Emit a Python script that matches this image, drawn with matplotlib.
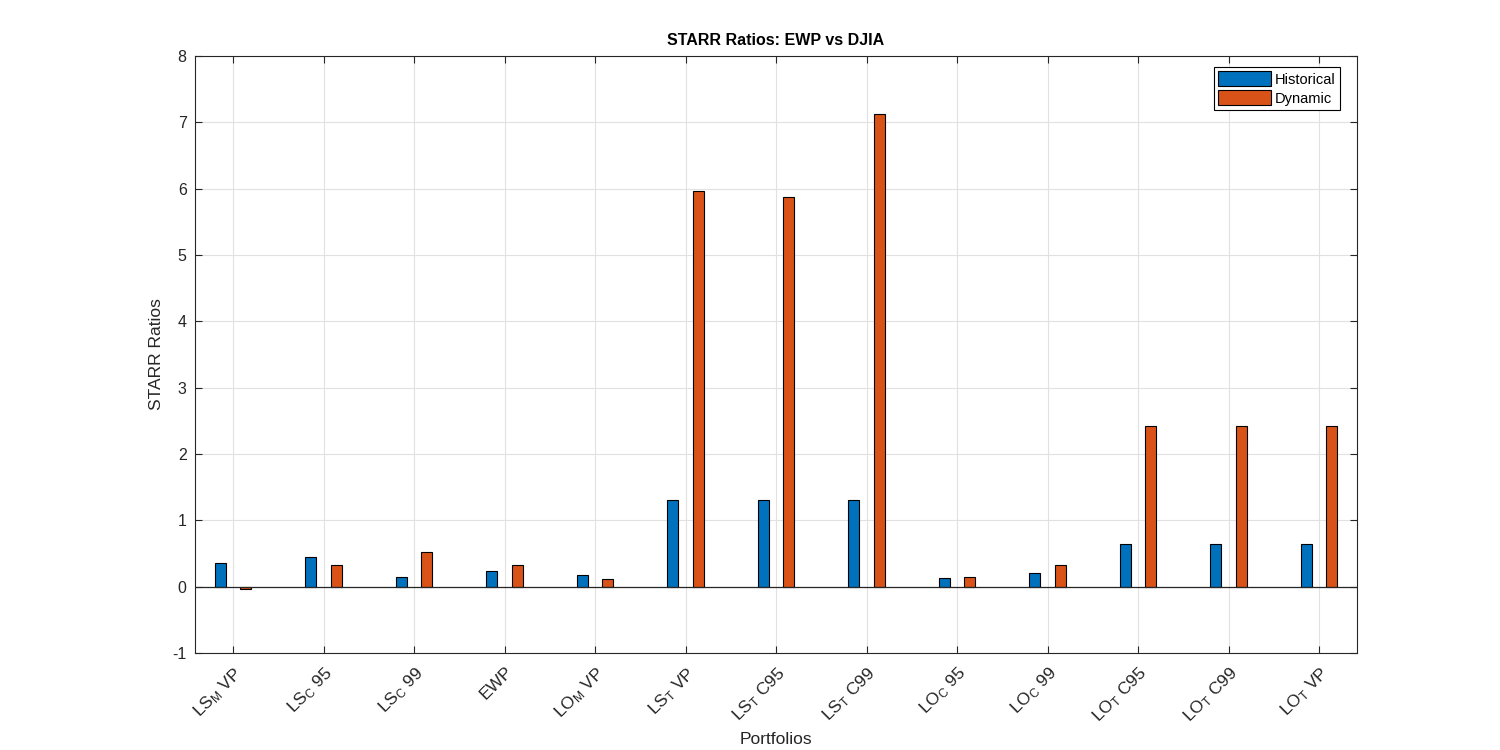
import numpy as np
import matplotlib.pyplot as plt

plt.rcParams['font.family'] = ['Liberation Sans', 'DejaVu Sans']
plt.rcParams['mathtext.default'] = 'regular'
plt.rcParams['axes.unicode_minus'] = False

portfolios = ['LS$_M$ VP', 'LS$_C$ 95', 'LS$_C$ 99', 'EWP', 'LO$_M$ VP',
              'LS$_T$ VP', 'LS$_T$ C95', 'LS$_T$ C99', 'LO$_C$ 95', 'LO$_C$ 99',
              'LO$_T$ C95', 'LO$_T$ C99', 'LO$_T$ VP']
historical = [0.36, 0.45, 0.14, 0.24, 0.17, 1.31, 1.31, 1.31, 0.135, 0.21, 0.645, 0.645, 0.645]
dynamic = [-0.03, 0.33, 0.53, 0.33, 0.12, 5.97, 5.88, 7.13, 0.15, 0.32, 2.43, 2.43, 2.43]

axis_col = '#262626'
x = np.arange(1, len(portfolios) + 1)

fig = plt.figure(figsize=(15, 7.5), dpi=100)
ax = fig.add_axes([0.13, 0.1293, 0.7747, 0.796])

ax.bar(x - 0.14, historical, 0.12, color='#0072BD', edgecolor='black', linewidth=0.8,
       label='Historical', zorder=3)
ax.bar(x + 0.14, dynamic, 0.12, color='#D95319', edgecolor='black', linewidth=0.8,
       label='Dynamic', zorder=3)
ax.axhline(0, color=axis_col, linewidth=0.9, zorder=4)

ax.set_xlim(0.58, 13.42)
ax.set_ylim(-1, 8)
ax.set_yticks(range(-1, 9))
ax.set_xticks(x)
ax.set_xticklabels(portfolios, rotation=45, ha='right', rotation_mode='anchor')
ax.tick_params(axis='both', direction='in', top=True, right=True, colors=axis_col,
               labelsize=11.5, length=5, width=0.8, pad=6)
ax.tick_params(axis='x', labelsize=12.5, pad=8)
ax.grid(True, color='#e1e1e1', linewidth=0.8, zorder=0)
for s in ax.spines.values():
    s.set_color(axis_col)
    s.set_linewidth(0.8)

ax.set_title('STARR Ratios: EWP vs DJIA', fontsize=11.5, fontweight='bold', color='black', pad=8)
ax.set_xlabel('Portfolios', fontsize=12.5, color=axis_col)
ax.set_ylabel('STARR Ratios', fontsize=12.5, color=axis_col, labelpad=6)

leg = ax.legend(loc='upper right', bbox_to_anchor=(1340 / 1500, 683 / 750),
                bbox_transform=fig.transFigure, borderaxespad=0,
                fontsize=10.5, fancybox=False, framealpha=1,
                edgecolor='black', handlelength=3.6, handleheight=1.2,
                handletextpad=0.3, borderpad=0.3, labelspacing=0.25)
leg.get_frame().set_linewidth(0.8)

fig.savefig('out.png', dpi=100)
